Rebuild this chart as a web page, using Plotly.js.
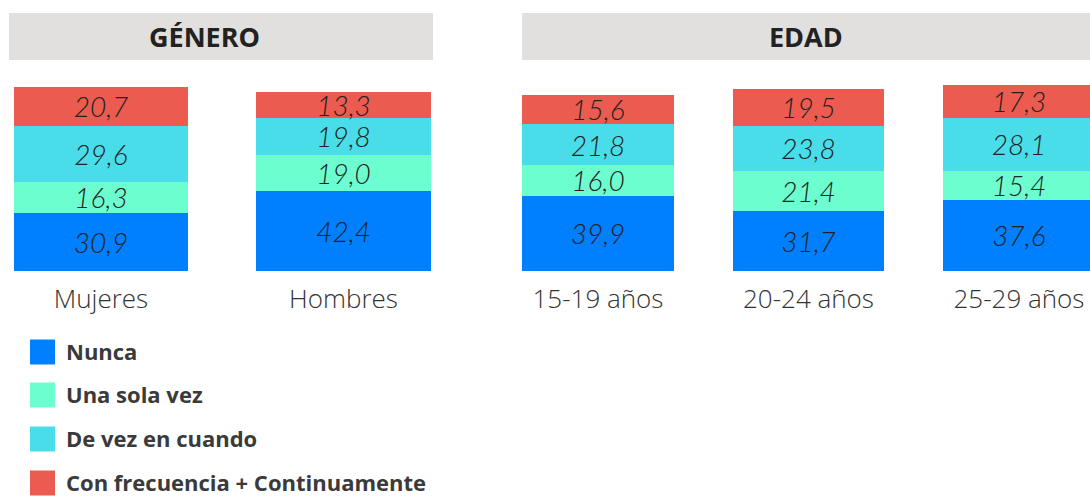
<!DOCTYPE html>
<html><head><meta charset="utf-8">
<script src="https://cdn.plot.ly/plotly-3.0.1.min.js"></script>
<style>html,body{margin:0;padding:0;background:#fff}#chart{width:1090px;height:496px}</style>
</head><body><div id="chart"></div>
<script>
// ---- data ----
const generoCategories = ['Mujeres', 'Hombres'];
const edadCategories = ['15-19 años', '20-24 años', '25-29 años'];
const seriesNames = ['Nunca', 'Una sola vez', 'De vez en cuando', 'Con frecuencia + Continuamente'];
const nuncaGenero = [30.9, 42.4];
const unaSolaVezGenero = [16.3, 19.0];
const deVezGenero = [29.6, 19.8];
const conFrecuenciaGenero = [20.7, 13.3];
const nuncaEdad = [39.9, 31.7, 37.6];
const unaSolaVezEdad = [16.0, 21.4, 15.4];
const deVezEdad = [21.8, 23.8, 28.1];
const conFrecuenciaEdad = [15.6, 19.5, 17.3];
const sectionTitles = ['GÉNERO', 'EDAD'];

// ---- style ----
const colors = ['#007fff', '#6dfecf', '#48dde9', '#ec5b50'];
const W = 1090, H = 496;
const px = x => x / W;
const py = y => 1 - y / H;

const generoSeries = [nuncaGenero, unaSolaVezGenero, deVezGenero, conFrecuenciaGenero];
const edadSeries = [nuncaEdad, unaSolaVezEdad, deVezEdad, conFrecuenciaEdad];

const valueFont = {family: 'Lato', size: 28, style: 'italic', weight: 300, color: '#222222'};

function barTrace(cats, vals, i, xaxis) {
  return {
    type: 'bar', x: cats, y: vals, name: seriesNames[i], xaxis: xaxis, yaxis: 'y',
    marker: {color: colors[i], line: {width: 0}},
    width: 0.72,
    texttemplate: '%{y:.1f}', textposition: 'inside', insidetextanchor: 'middle',
    textangle: 0, constraintext: 'none', cliponaxis: false,
    textfont: valueFont, showlegend: false, hoverinfo: 'skip'
  };
}

const traces = [];
generoSeries.forEach((s, i) => traces.push(barTrace(generoCategories, s, i, 'x')));
edadSeries.forEach((s, i) => traces.push(barTrace(edadCategories, s, i, 'x2')));

const tickFont = {family: 'Open Sans', size: 26, weight: 300, color: '#333333'};
const axisCommon = {
  type: 'category', showgrid: false, zeroline: false, showline: false, ticks: '',
  tickfont: tickFont, fixedrange: true, ticklabelstandoff: 10
};

const shapes = [
  {type: 'rect', xref: 'paper', yref: 'paper', x0: px(9), x1: px(433), y0: py(60), y1: py(13),
   fillcolor: '#e1e0df', line: {width: 0}, layer: 'below'},
  {type: 'rect', xref: 'paper', yref: 'paper', x0: px(522), x1: px(1090), y0: py(60), y1: py(13),
   fillcolor: '#e1e0df', line: {width: 0}, layer: 'below'}
];
const titleFont = {family: 'Open Sans', size: 27, color: '#222222'};
const annotations = [
  {xref: 'paper', yref: 'paper', x: px(204), y: py(37), text: '<b>' + sectionTitles[0] + '</b>', showarrow: false,
   xanchor: 'center', yanchor: 'middle', font: titleFont},
  {xref: 'paper', yref: 'paper', x: px(806), y: py(37), text: '<b>' + sectionTitles[1] + '</b>', showarrow: false,
   xanchor: 'center', yanchor: 'middle', font: titleFont}
];
// manual legend (large squares)
const legendCenters = [352, 395, 439, 483];
seriesNames.forEach((n, i) => {
  const c = legendCenters[i];
  shapes.push({type: 'rect', xref: 'paper', yref: 'paper', x0: px(30), x1: px(55), y0: py(c + 12.5), y1: py(c - 12.5),
    fillcolor: colors[i], line: {width: 0}});
  annotations.push({xref: 'paper', yref: 'paper', x: px(65), y: py(c - 1), text: '<b>' + n + '</b>', showarrow: false,
    xanchor: 'left', yanchor: 'middle', borderpad: 0,
    font: {family: 'Open Sans', size: 22, color: '#3a3a3a'}});
});

const layout = {
  width: W, height: H, margin: {l: 0, r: 0, t: 0, b: 0},
  paper_bgcolor: '#ffffff', plot_bgcolor: 'rgba(0,0,0,0)',
  barmode: 'stack', separators: ',.', showlegend: false,
  xaxis: Object.assign({}, axisCommon, {domain: [0, px(480)], range: [-101 / 242.5, (480 - 101) / 242.5], anchor: 'y'}),
  xaxis2: Object.assign({}, axisCommon, {domain: [px(480), 1], range: [(480 - 598) / 210.5, (1090 - 598) / 210.5], anchor: 'y'}),
  yaxis: {domain: [py(271), py(82)], range: [0, 100], visible: false, fixedrange: true},
  shapes: shapes, annotations: annotations
};

Plotly.newPlot('chart', traces, layout, {displayModeBar: false, staticPlot: true});
</script>
</body></html>
